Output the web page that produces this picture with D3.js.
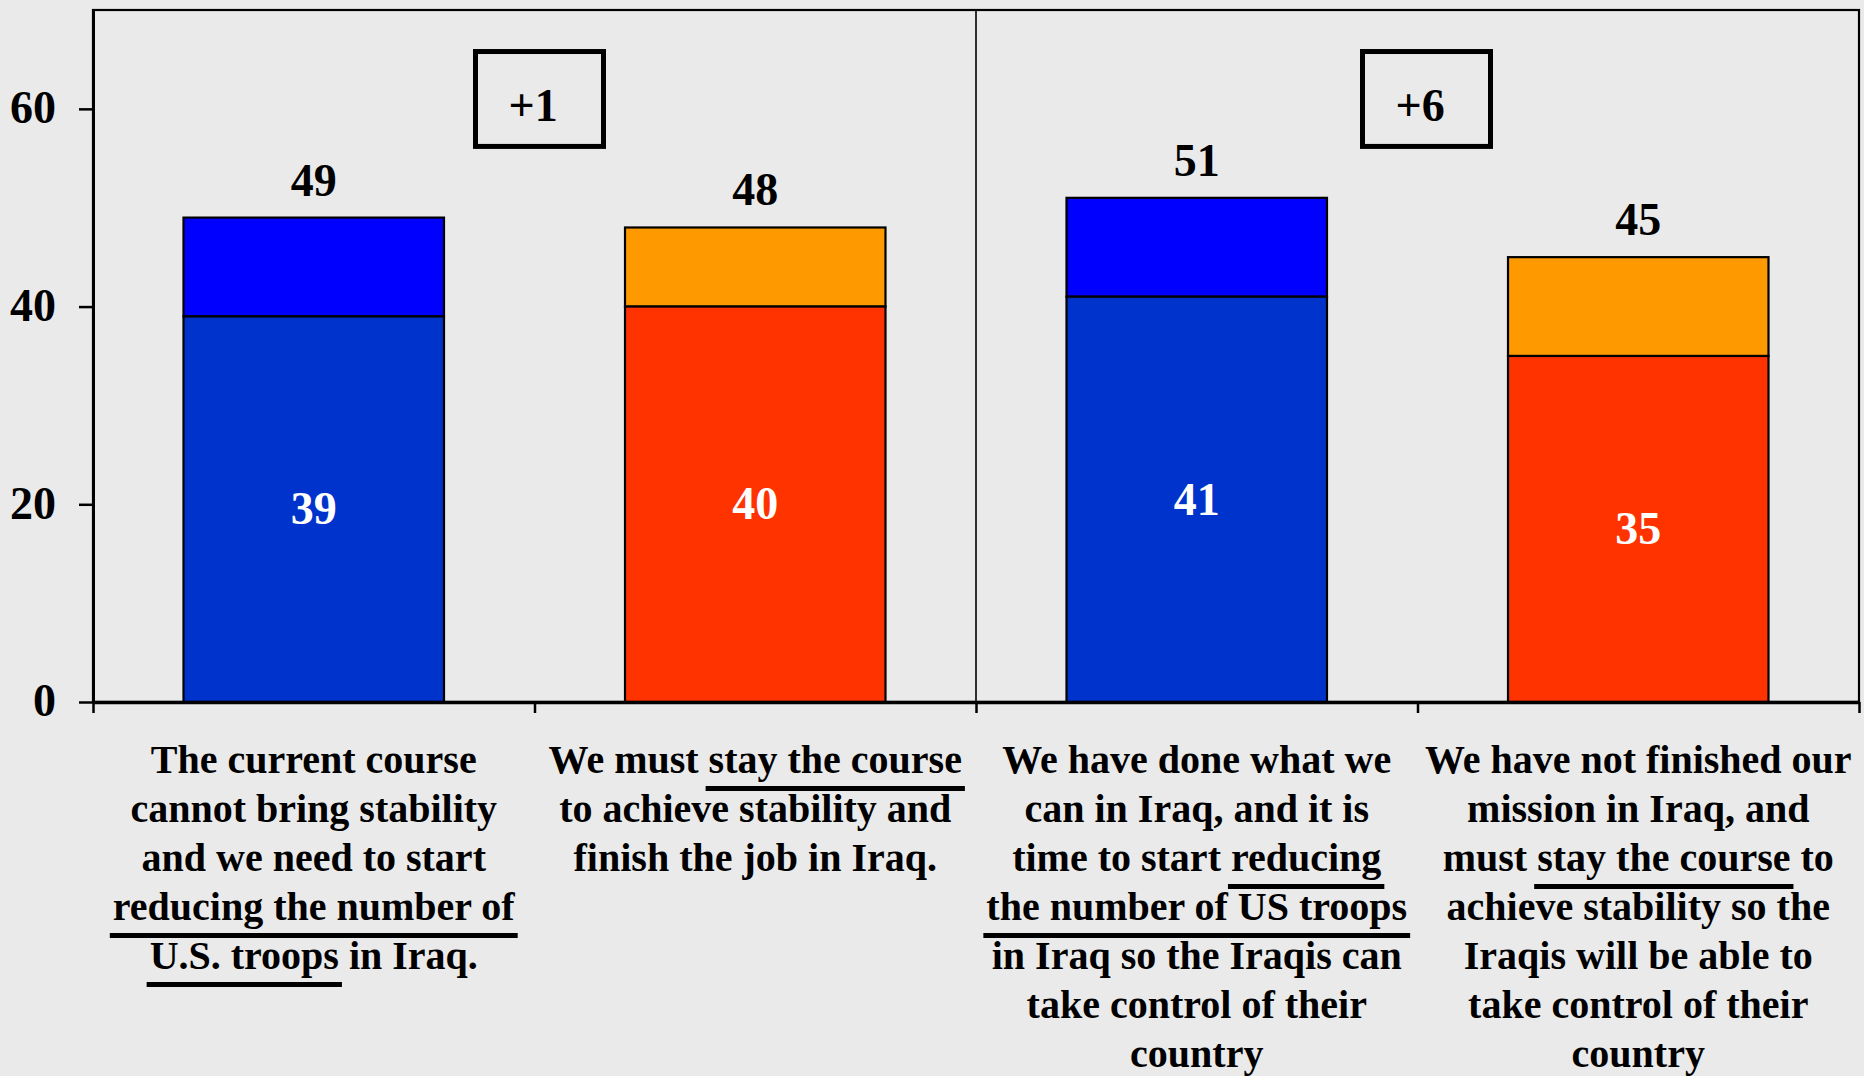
<!DOCTYPE html>
<html><head><meta charset="utf-8">
<script src="https://cdn.jsdelivr.net/npm/d3@7"></script>
<style>html,body{margin:0;padding:0;background:#EAEAEA;} svg{display:block;}</style>
</head><body>
<svg id="chart" width="1864" height="1076"></svg>
<script>
// ---- data ----
const categories = ["reduceNow", "stayCourse", "reduceIraqis", "stayMission"];
const labelLines = [
  ["The current course", "cannot bring stability", "and we need to start", "[reducing the number of]", "[U.S. troops] in Iraq."],
  ["We must [stay the course]", "to achieve stability and", "finish the job in Iraq."],
  ["We have done what we", "can in Iraq, and it is", "time to start [reducing]", "[the number of US troops]", "in Iraq so the Iraqis can", "take control of their", "country"],
  ["We have not finished our", "mission in Iraq, and", "must [stay the course] to", "achieve stability so the", "Iraqis will be able to", "take control of their", "country"]
];
const sides = ["reduce", "stay", "reduce", "stay"];
const strongValues = [39, 40, 41, 35];
const totalValues = [49, 48, 51, 45];
const yTicks = [0, 20, 40, 60];
const diffLabels = ["+1", "+6"];
const diffAfterPair = [1, 3];   // boundary index between the two bars of each pair

// ---- styles / layout ----
const colors = {
  reduce: {strong: "#0033CC", soft: "#0000FF"},
  stay:   {strong: "#FF3300", soft: "#FF9900"}
};
const W = 1864, H = 1076;
const mLeft = 93, mRight = 1859, mTop = 10, mBottom = 702;
const font = "'Liberation Serif', 'Times New Roman', serif";

const svg = d3.select("#chart");
svg.append("rect").attr("width", W).attr("height", H).attr("fill", "#EAEAEA");

const y = d3.scaleLinear().domain([0, 70]).range([mBottom, mTop]);
const pad = 0.41;
const x = d3.scaleBand().domain(categories).range([mLeft, mRight])
  .paddingInner(pad).paddingOuter(pad / 2);
const xEdge = d3.scaleLinear().domain([0, categories.length]).range([mLeft, mRight]);

// frame
svg.append("rect").attr("x", mLeft).attr("y", mTop).attr("width", mRight - mLeft).attr("height", mBottom - mTop)
  .attr("fill", "none").attr("stroke", "#000").attr("stroke-width", 2.2);
// divider
svg.append("line").attr("x1", xEdge(2)).attr("x2", xEdge(2)).attr("y1", mTop).attr("y2", mBottom)
  .attr("stroke", "#000").attr("stroke-width", 1.6);

// bars
const g = svg.append("g");
categories.forEach((c, i) => {
  const s = sides[i];
  g.append("rect").attr("x", x(c)).attr("width", x.bandwidth())
    .attr("y", y(totalValues[i])).attr("height", y(strongValues[i]) - y(totalValues[i]))
    .attr("fill", colors[s].soft).attr("stroke", "#000").attr("stroke-width", 2.2);
  g.append("rect").attr("x", x(c)).attr("width", x.bandwidth())
    .attr("y", y(strongValues[i])).attr("height", y(0) - y(strongValues[i]))
    .attr("fill", colors[s].strong).attr("stroke", "#000").attr("stroke-width", 2.2);
  g.append("text").attr("x", x(c) + x.bandwidth() / 2).attr("y", y(totalValues[i]) - 22)
    .attr("text-anchor", "middle").attr("font-family", font).attr("font-weight", "bold")
    .attr("font-size", 46).attr("fill", "#000").text(totalValues[i]);
  g.append("text").attr("x", x(c) + x.bandwidth() / 2).attr("y", (y(strongValues[i]) + y(0)) / 2)
    .attr("dy", "0.33em")
    .attr("text-anchor", "middle").attr("font-family", font).attr("font-weight", "bold")
    .attr("font-size", 46).attr("fill", "#fff").text(strongValues[i]);
});

// y axis
const yAxis = svg.append("g").attr("transform", `translate(${mLeft},0)`)
  .call(d3.axisLeft(y).tickValues(yTicks).tickSize(14).tickSizeOuter(0).tickPadding(23));
yAxis.select(".domain").attr("stroke", "#000").attr("stroke-width", 3);
yAxis.selectAll(".tick line").attr("stroke", "#000").attr("stroke-width", 2.5);
yAxis.selectAll(".tick text").attr("font-family", font).attr("font-weight", "bold")
  .attr("font-size", 46).attr("fill", "#000").attr("dy", "0.3em");

// x axis (ticks at category boundaries)
const xAxis = svg.append("g").attr("transform", `translate(0,${mBottom})`)
  .call(d3.axisBottom(xEdge).tickValues(d3.range(categories.length + 1)).tickFormat("").tickSize(11).tickSizeOuter(0));
xAxis.select(".domain").attr("stroke", "#000").attr("stroke-width", 3.5);
xAxis.selectAll(".tick line").attr("stroke", "#000").attr("stroke-width", 2.5);

// difference boxes
diffLabels.forEach((t, k) => {
  const cx = xEdge(diffAfterPair[k]) + (k === 0 ? 5 : 9);
  const bw = 128, y0 = y(65.8), y1 = y(56.2);
  svg.append("rect").attr("x", cx - bw / 2).attr("y", y0).attr("width", bw).attr("height", y1 - y0)
    .attr("fill", "none").attr("stroke", "#000").attr("stroke-width", 5);
  svg.append("text").attr("x", cx - bw / 2 + 33).attr("y", y(58.8))
    .attr("font-family", font).attr("font-weight", "bold").attr("font-size", 46)
    .attr("fill", "#000").text(t);
});

// category labels with underlines
const firstBase = mBottom + 71, lineH = 49;
labelLines.forEach((lines, i) => {
  const cx = xEdge(i + 0.5);
  lines.forEach((raw, j) => {
    const plain = raw.replace(/[\[\]]/g, "");
    const by = firstBase + j * lineH;
    const t = svg.append("text").attr("x", cx).attr("y", by).attr("text-anchor", "middle")
      .attr("font-family", font).attr("font-weight", "bold").attr("font-size", 40)
      .attr("fill", "#000").text(plain);
    const re = /\[([^\]]*)\]/g;
    let m, removed = 0;
    while ((m = re.exec(raw)) !== null) {
      const start = m.index - removed;
      const end = start + m[1].length;
      removed += 2;
      const node = t.node();
      const x0 = node.getStartPositionOfChar(start).x;
      const x1 = node.getEndPositionOfChar(end - 1).x;
      svg.append("rect").attr("x", x0 - 3).attr("y", by + 13).attr("width", x1 - x0 + 6).attr("height", 5)
        .attr("fill", "#000");
    }
  });
});
</script>
</body></html>
